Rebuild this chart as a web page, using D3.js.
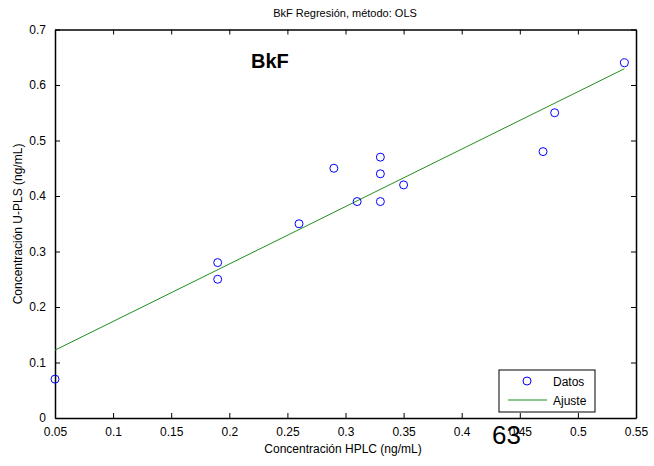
<!DOCTYPE html>
<html><head><meta charset="utf-8">
<script src="https://cdn.jsdelivr.net/npm/d3@7/dist/d3.min.js"></script>
<style>body{margin:0;background:#fff}svg{display:block}text{font-family:"Liberation Sans",Arial,sans-serif}</style>
</head><body>
<script>
const hplc = [0.05, 0.19, 0.19, 0.26, 0.29, 0.31, 0.33, 0.33, 0.33, 0.35, 0.47, 0.48, 0.54];
const upls = [0.07, 0.28, 0.25, 0.35, 0.45, 0.39, 0.47, 0.44, 0.39, 0.42, 0.48, 0.55, 0.64];
const xTicks = [0.05, 0.1, 0.15, 0.2, 0.25, 0.3, 0.35, 0.4, 0.45, 0.5, 0.55];
const yTicks = [0, 0.1, 0.2, 0.3, 0.4, 0.5, 0.6, 0.7];

const W = 654, H = 466;
const L = 55, R = 636, T = 29.5, B = 418;
const svg = d3.select("body").append("svg").attr("width", W).attr("height", H);
const x = d3.scaleLinear().domain([0.05, 0.55]).range([L, R]);
const y = d3.scaleLinear().domain([0, 0.7]).range([B, T]);

// OLS fit
const mx = d3.mean(hplc), my = d3.mean(upls);
let sxy = 0, sxx = 0;
hplc.forEach((v, i) => { sxy += (v - mx) * (upls[i] - my); sxx += (v - mx) * (v - mx); });
const slope = sxy / sxx, icpt = my - slope * mx;
const fitX = [d3.min(hplc), d3.max(hplc)];

// axes with inward ticks
const tl = 5;
const gB = svg.append("g").attr("transform", `translate(0,${B})`)
  .call(d3.axisBottom(x).tickValues(xTicks).tickSizeInner(-tl).tickSizeOuter(0).tickPadding(9).tickFormat(d3.format("")));
const gT = svg.append("g").attr("transform", `translate(0,${T})`)
  .call(d3.axisTop(x).tickValues(xTicks).tickSizeInner(-tl).tickSizeOuter(0).tickFormat(""));
const gL = svg.append("g").attr("transform", `translate(${L},0)`)
  .call(d3.axisLeft(y).tickValues(yTicks).tickSizeInner(-tl).tickSizeOuter(0).tickPadding(9).tickFormat(d3.format("")));
const gR = svg.append("g").attr("transform", `translate(${R},0)`)
  .call(d3.axisRight(y).tickValues(yTicks).tickSizeInner(-tl).tickSizeOuter(0).tickFormat(""));
[gB, gT, gL, gR].forEach(g => {
  g.selectAll(".domain").attr("stroke", "#000").attr("stroke-width", 1.5);
  g.selectAll(".tick line").attr("stroke", "#000");
  g.selectAll("text").attr("fill", "#000").style("font-size", "12px").attr("font-family", null);
});

// fit line
svg.append("line")
  .attr("x1", x(fitX[0])).attr("y1", y(icpt + slope * fitX[0]))
  .attr("x2", x(fitX[1])).attr("y2", y(icpt + slope * fitX[1]))
  .attr("stroke", "#1f8f1f").attr("stroke-width", 1);

// points
svg.append("g").selectAll("circle").data(hplc).join("circle")
  .attr("cx", d => x(d)).attr("cy", (d, i) => y(upls[i])).attr("r", 4)
  .attr("fill", "none").attr("stroke", "#0000ff").attr("stroke-width", 1);

// title & labels
svg.append("text").attr("x", 345).attr("y", 17).attr("text-anchor", "middle")
  .style("font-size", "11px").text("BkF Regresión, método: OLS");
svg.append("text").attr("x", 343).attr("y", 453).attr("text-anchor", "middle")
  .style("font-size", "12px").text("Concentración HPLC (ng/mL)");
svg.append("text").attr("transform", "translate(22,224) rotate(-90)").attr("text-anchor", "middle")
  .style("font-size", "12px").text("Concentración U-PLS (ng/mL)");
svg.append("text").attr("x", 251).attr("y", 68)
  .style("font-size", "20px").style("font-weight", "bold").text("BkF");

// legend
const lg = svg.append("g");
lg.append("rect").attr("x", 499).attr("y", 370).attr("width", 96).attr("height", 42)
  .attr("fill", "#fff").attr("stroke", "#000").attr("stroke-width", 1);
lg.append("circle").attr("cx", 527).attr("cy", 381).attr("r", 4)
  .attr("fill", "none").attr("stroke", "#0000ff");
lg.append("text").attr("x", 553).attr("y", 385.5).style("font-size", "12px").text("Datos");
lg.append("line").attr("x1", 508).attr("x2", 547).attr("y1", 400).attr("y2", 400)
  .attr("stroke", "#1f8f1f");
lg.append("text").attr("x", 553).attr("y", 404.5).style("font-size", "12px").text("Ajuste");

// page number overlay
svg.append("text").attr("x", 492).attr("y", 444).style("font-size", "26px").text("63");
</script>
</body></html>
